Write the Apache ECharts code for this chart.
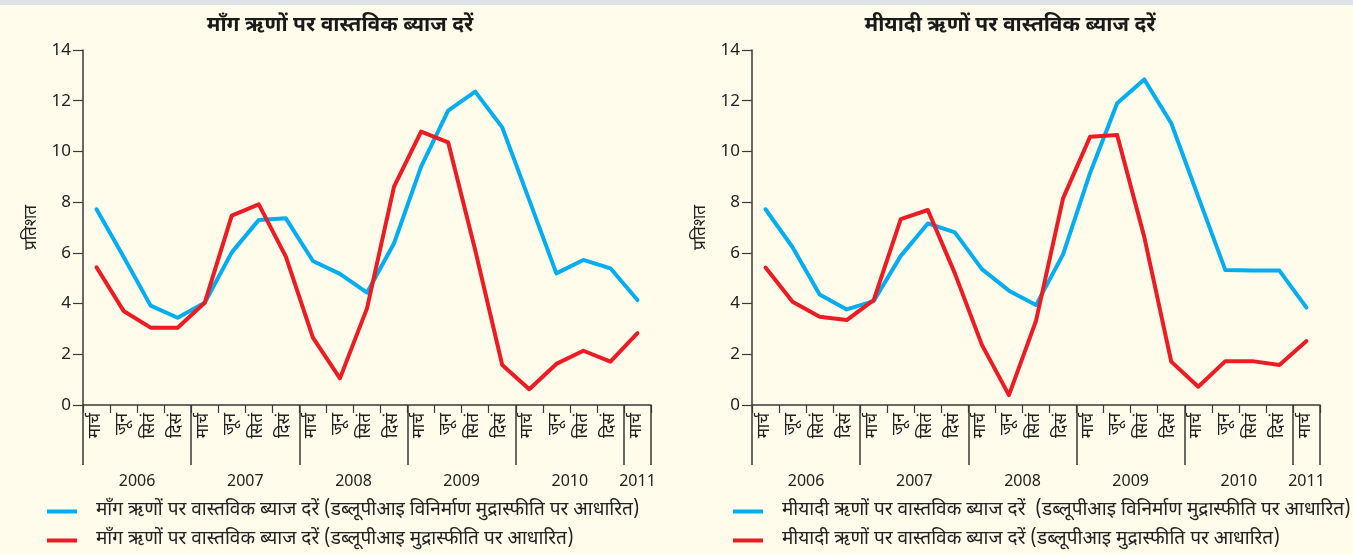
<!DOCTYPE html>
<html>
<head>
<meta charset="utf-8">
<script src="https://cdn.jsdelivr.net/npm/echarts@6/dist/echarts.min.js"></script>
<style>
  html, body { margin: 0; padding: 0; background: #FFFCEB; }
  #strip { position: absolute; left: 0; top: 0; width: 1353px; height: 5px; background: #DEE3E9; z-index: 2; }
  #chart { position: absolute; left: 0; top: 0; width: 1353px; height: 555px; }
</style>
</head>
<body>
<div id="strip"></div>
<div id="chart"></div>
<script>
// ---- data ----
const months = ['मार्च','जून','सितं','दिसं','मार्च','जून','सितं','दिसं','मार्च','जून','सितं','दिसं',
                'मार्च','जून','सितं','दिसं','मार्च','जून','सितं','दिसं','मार्च'];
const years = ['2006','2007','2008','2009','2010','2011'];
const yearCounts = [4, 4, 4, 4, 4, 1];
const yTicks = [0, 2, 4, 6, 8, 10, 12, 14];

const titleLeft = 'माँग ऋणों पर वास्तविक ब्याज दरें';
const titleRight = 'मीयादी ऋणों पर वास्तविक ब्याज दरें';
const yName = 'प्रतिशत';

const nameDemandMfg = 'माँग ऋणों पर वास्तविक ब्याज दरें (डब्लूपीआइ विनिर्माण मुद्रास्फीति पर आधारित)';
const nameDemandWpi = 'माँग ऋणों पर वास्तविक ब्याज दरें (डब्लूपीआइ मुद्रास्फीति पर आधारित)';
const nameTermMfg = 'मीयादी ऋणों पर वास्तविक ब्याज दरें  (डब्लूपीआइ विनिर्माण मुद्रास्फीति पर आधारित)';
const nameTermWpi = 'मीयादी ऋणों पर वास्तविक ब्याज दरें (डब्लूपीआइ मुद्रास्फीति पर आधारित)';

const demandMfg = [7.72, 5.85, 3.92, 3.44, 4.03, 6.02, 7.30, 7.36, 5.68, 5.17, 4.43, 6.38, 9.40, 11.61, 12.36, 10.95, 8.08, 5.19, 5.72, 5.39, 4.14];
const demandWpi = [5.43, 3.71, 3.05, 3.05, 4.03, 7.47, 7.91, 5.85, 2.66, 1.05, 3.81, 8.61, 10.78, 10.36, 6.11, 1.58, 0.62, 1.62, 2.14, 1.71, 2.83];
const termMfg   = [7.72, 6.22, 4.36, 3.77, 4.10, 5.88, 7.16, 6.81, 5.36, 4.51, 3.94, 5.94, 9.15, 11.90, 12.84, 11.11, 8.21, 5.32, 5.30, 5.30, 3.84];
const termWpi   = [5.42, 4.07, 3.48, 3.35, 4.14, 7.33, 7.69, 5.19, 2.37, 0.39, 3.32, 8.15, 10.58, 10.65, 6.64, 1.71, 0.72, 1.73, 1.73, 1.58, 2.52];

// ---- derived ----
const FONT = '"Noto Sans Devanagari", "Lohit Devanagari", "Noto Sans", "DejaVu Sans", sans-serif';
const NUMFONT = '"Noto Sans", sans-serif';
const AX = '#3a3a3a';
const BLUE = '#00AEEF';
const RED = '#ED1C24';
const nCat = months.length;
const yearCenters = [];
{ let acc = 0; yearCounts.forEach(c => { yearCenters.push(acc + c / 2); acc += c; }); }

function gridAxes(gi) {
  return [
    { // months
      type: 'category', gridIndex: gi, data: months, boundaryGap: true, position: 'bottom',
      axisLine: { show: true, lineStyle: { color: AX, width: 1.5 } },
      axisTick: { show: true, length: 8, interval: 0, lineStyle: { color: AX, width: 1.2 } },
      axisLabel: { interval: 0, rotate: 90, margin: 8, fontSize: 17, color: '#222', fontFamily: FONT },
      splitLine: { show: false }
    },
    { // year boundaries
      type: 'value', gridIndex: gi, min: 0, max: nCat, interval: 4, position: 'bottom',
      axisLine: { show: false },
      axisTick: { show: true, length: 60, lineStyle: { color: AX, width: 1.5 } },
      axisLabel: { show: false }, splitLine: { show: false }
    },
    { // year labels
      type: 'value', gridIndex: gi, min: 0, max: nCat, interval: 0.5, position: 'bottom',
      axisLine: { show: false }, axisTick: { show: false }, splitLine: { show: false },
      axisLabel: {
        show: true, margin: 68, fontSize: 16, color: '#222', fontFamily: NUMFONT,
        formatter: v => { const i = yearCenters.findIndex(c => Math.abs(c - v) < 1e-6); return i >= 0 ? years[i] : ''; }
      }
    }
  ];
}
function yAxisFor(gi) {
  return {
    type: 'value', gridIndex: gi, min: yTicks[0], max: yTicks[yTicks.length - 1], interval: yTicks[1] - yTicks[0],
    name: yName, nameLocation: 'middle', nameRotate: 90, nameGap: 42,
    nameTextStyle: { fontSize: 17, color: '#222', fontFamily: FONT },
    axisLine: { show: true, lineStyle: { color: AX, width: 1.5 } },
    axisTick: { show: true, length: 10, lineStyle: { color: AX, width: 1.2 } },
    axisLabel: { fontSize: 17, color: '#222', margin: 12, fontFamily: NUMFONT },
    splitLine: { show: false }
  };
}
function lineSeries(name, data, color, axisBase, gi) {
  return {
    type: 'line', name, data, xAxisIndex: axisBase, yAxisIndex: gi,
    symbol: 'none', smooth: false,
    lineStyle: { color, width: 4, cap: 'round', join: 'round' }, itemStyle: { color }
  };
}

const chart = echarts.init(document.getElementById('chart'), null, { renderer: 'canvas' });
chart.setOption({
  backgroundColor: 'transparent',
  animation: false,
  textStyle: { fontFamily: FONT },
  title: [
    { text: titleLeft, left: 335, top: 12, textAlign: 'center',
      textStyle: { fontSize: 21, fontWeight: 'bold', color: '#1a1a1a', fontFamily: FONT } },
    { text: titleRight, left: 1005, top: 12, textAlign: 'center',
      textStyle: { fontSize: 21, fontWeight: 'bold', color: '#1a1a1a', fontFamily: FONT } }
  ],
  grid: [
    { left: 83, top: 50, width: 568, height: 355, containLabel: false },
    { left: 752, top: 50, width: 568, height: 355, containLabel: false }
  ],
  xAxis: [...gridAxes(0), ...gridAxes(1)],
  yAxis: [yAxisFor(0), yAxisFor(1)],
  legend: [
    { data: [nameDemandMfg, nameDemandWpi], orient: 'vertical', left: 42, top: 497, itemGap: 10,
      icon: 'rect', itemWidth: 30, itemHeight: 4,
      textStyle: { fontSize: 19, color: '#222', fontFamily: FONT, padding: [0, 0, 0, 14] } },
    { data: [nameTermMfg, nameTermWpi], orient: 'vertical', left: 728, top: 497, itemGap: 10,
      icon: 'rect', itemWidth: 30, itemHeight: 4,
      textStyle: { fontSize: 19, color: '#222', fontFamily: FONT, padding: [0, 0, 0, 14] } }
  ],
  series: [
    lineSeries(nameDemandMfg, demandMfg, BLUE, 0, 0),
    lineSeries(nameDemandWpi, demandWpi, RED, 0, 0),
    lineSeries(nameTermMfg, termMfg, BLUE, 3, 1),
    lineSeries(nameTermWpi, termWpi, RED, 3, 1)
  ]
});
</script>
</body>
</html>
